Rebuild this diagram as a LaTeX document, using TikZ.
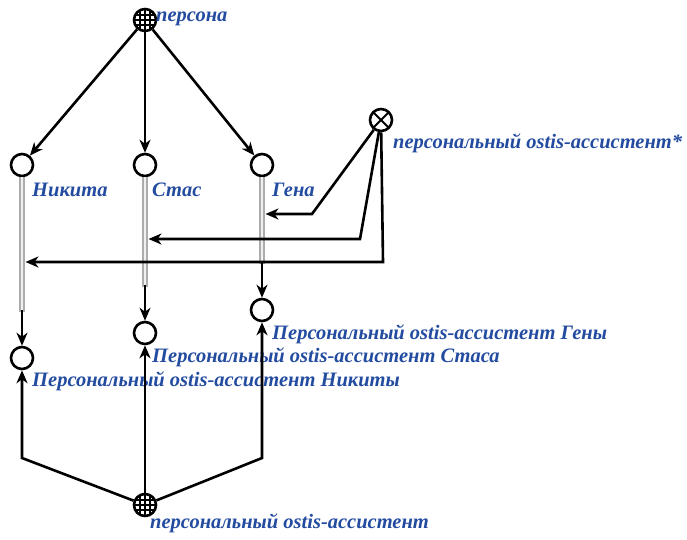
\documentclass[tikz,border=0pt]{standalone}
\usepackage{fontspec}
\setmainfont{Liberation Serif}
\usetikzlibrary{arrows.meta,calc}
\definecolor{lbl}{RGB}{35,75,160}
\tikzset{
  lab/.style={anchor=west,inner sep=0pt,text=lbl,font=\fontsize{20.5}{24}\selectfont\bfseries\itshape},
  elem/.style={circle,draw=black,line width=2.6pt,minimum size=22pt,inner sep=0pt,fill=white},
  gridnode/.style={elem,path picture={
      \foreach \d in {-5,0,5}{
        \draw[line width=1.1pt] ($(path picture bounding box.center)+(\d pt,-12pt)$) -- ($(path picture bounding box.center)+(\d pt,12pt)$);
        \draw[line width=1.1pt] ($(path picture bounding box.center)+(-12pt,\d pt)$) -- ($(path picture bounding box.center)+(12pt,\d pt)$);
      }}},
  relnode/.style={elem,path picture={
      \draw[line width=2pt] (path picture bounding box.north west) -- (path picture bounding box.south east);
      \draw[line width=2pt] (path picture bounding box.north east) -- (path picture bounding box.south west);}},
  arc/.style={line width=2.6pt,-{Stealth[length=13pt,width=11pt,inset=4pt]}},
  common/.style={draw=gray!65,double=gray!12,double distance=2.6pt,line width=1.6pt},
}
\begin{document}
\begin{tikzpicture}[x=1pt,y=-1pt]
\useasboundingbox (0,0) rectangle (687,539);
% nodes
\node[gridnode] (pers) at (145,20) {};
\node[lab] (persL) at (156,19) {персона};
\node[elem] (nik) at (22,165) {};
\node[elem] (sta) at (145,165) {};
\node[elem] (gen) at (262,165) {};
\node[lab] (nikL) at (32,190) {Никита};
\node[lab] (staL) at (152,190) {Стас};
\node[lab] (genL) at (272,190) {Гена};
\node[relnode] (rel) at (381,120) {};
\node[lab] (relL) at (393,143) {персональный ostis-ассистент*};
\node[elem] (nikA) at (22,358) {};
\node[elem] (staA) at (145,333) {};
\node[elem] (genA) at (262,310) {};
\node[lab] (genAL) at (272,334) {Персональный ostis-ассистент Гены};
\node[lab] (staAL) at (152,357) {Персональный ostis-ассистент Стаса};
\node[lab] (nikAL) at (32,381) {Персональный ostis-ассистент Никиты};
\node[gridnode] (bot) at (145,505) {};
\node[lab] (botL) at (150,523) {персональный ostis-ассистент};
% arcs from persona
\draw[arc] (pers) -- (nik);
\draw[arc] (pers) -- (sta);
\draw[arc] (pers) -- (gen);
% common arcs
\coordinate (nikE) at ($(nikA)+(0,-46)$);
\coordinate (staE) at ($(staA)+(0,-46)$);
\coordinate (genE) at ($(genA)+(0,-46)$);
\draw[common] (nik) -- (nikE);
\draw[common] (sta) -- (staE);
\draw[common] (gen) -- (genE);
\draw[arc,line width=1.4pt] ($(nikE)+(0,-2)$) -- (nikA);
\draw[arc,line width=1.4pt] ($(staE)+(0,-2)$) -- (staA);
\draw[arc,line width=1.4pt] ($(genE)+(0,-2)$) -- (genA);
% role arcs
\coordinate (gP) at (262,214);
\coordinate (sP) at (145,239);
\coordinate (nP) at (22,262);
\coordinate (c1) at (312,214);
\coordinate (c2) at (360,239);
\coordinate (c3) at (383,262);
\draw[arc,shorten >=3.5pt] (rel) -- (c1) -- (gP);
\draw[arc,shorten >=3.5pt] (rel) -- (c2) -- (sP);
\draw[arc,shorten >=3.5pt] (rel) -- (c3) -- (nP);
% arcs from bottom class
\coordinate (b1) at (22,458);
\coordinate (b3) at (262,458);
\draw[arc] (bot) -- (b1) -- (nikA);
\draw[arc] (bot) -- (staA);
\draw[arc] (bot) -- (b3) -- (genA);
\end{tikzpicture}
\end{document}
